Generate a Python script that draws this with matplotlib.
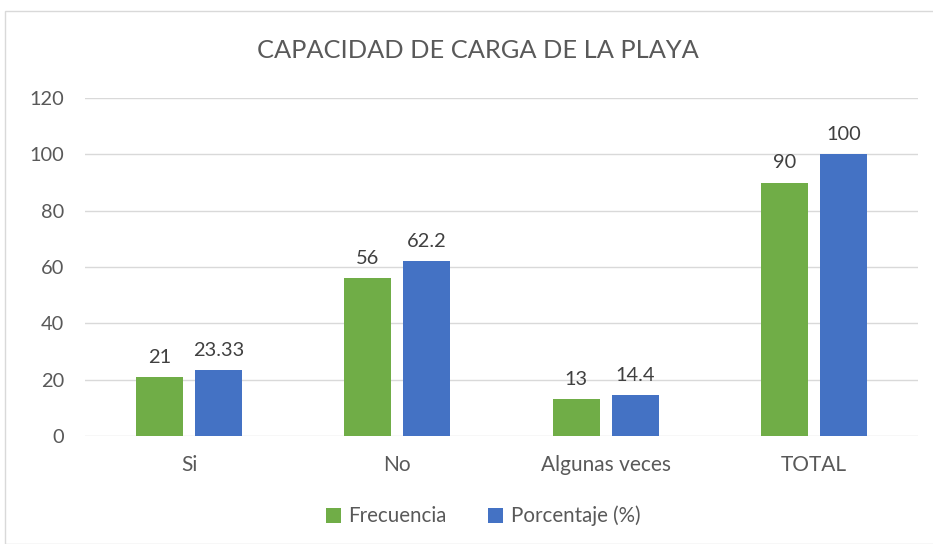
import matplotlib
matplotlib.use("Agg")
import matplotlib.pyplot as plt
import numpy as np
from matplotlib.patches import Rectangle

categories = ["Si", "No", "Algunas veces", "TOTAL"]
frecuencia = [21, 56, 13, 90]
porcentaje = [23.33, 62.2, 14.4, 100]
freq_labels = ["21", "56", "13", "90"]
pct_labels = ["23.33", "62.2", "14.4", "100"]

GREEN = "#70AD47"
BLUE = "#4472C4"
TXT = "#595959"

plt.rcParams["font.family"] = ["Lato", "DejaVu Sans"]

fig = plt.figure(figsize=(9.33, 5.44), dpi=100)
ax = fig.add_axes([85 / 933, 1 - 436 / 544, 833 / 933, 338 / 544])

# chart border
fig.patches.append(Rectangle((5 / 933, 0), 1.2, 1 - 11 / 544, transform=fig.transFigure,
                             fill=False, edgecolor="#D9D9D9", linewidth=1))

x = np.arange(len(categories))
w = 0.226
off = 0.142
b1 = ax.bar(x - off, frecuencia, w, color=GREEN, label="Frecuencia", zorder=3)
b2 = ax.bar(x + off, porcentaje, w, color=BLUE, label="Porcentaje (%)", zorder=3)

for bars, labs in ((b1, freq_labels), (b2, pct_labels)):
    for rect, lab in zip(bars, labs):
        ax.annotate(lab, (rect.get_x() + rect.get_width() / 2, rect.get_height()),
                    xytext=(0, 8), textcoords="offset points", ha="center", va="bottom",
                    fontsize=14.4, color="#404040")

ax.set_xlim(-0.5, 3.5)
ax.set_ylim(0, 120)
ax.set_yticks(range(0, 121, 20))
ax.set_xticks(x)
ax.set_xticklabels(categories)
ax.tick_params(axis="both", length=0, colors=TXT)
ax.tick_params(axis="y", pad=15, labelsize=14.4)
ax.tick_params(axis="x", pad=14, labelsize=15)
ax.grid(axis="y", color="#D9D9D9", linewidth=1, zorder=0)
for s in ax.spines.values():
    s.set_visible(False)

fig.text(478 / 933, 1 - 50 / 544, "CAPACIDAD DE CARGA DE LA PLAYA", ha="center", va="center",
         fontsize=18.3, color=TXT)

fig.legend(loc="center", bbox_to_anchor=(483 / 933, 1 - 516 / 544), ncol=2, frameon=False,
           fontsize=14.8, labelcolor=TXT, handlelength=0.75, handleheight=0.75,
           handletextpad=0.35, columnspacing=2.0)

fig.savefig("out.png", dpi=100)
